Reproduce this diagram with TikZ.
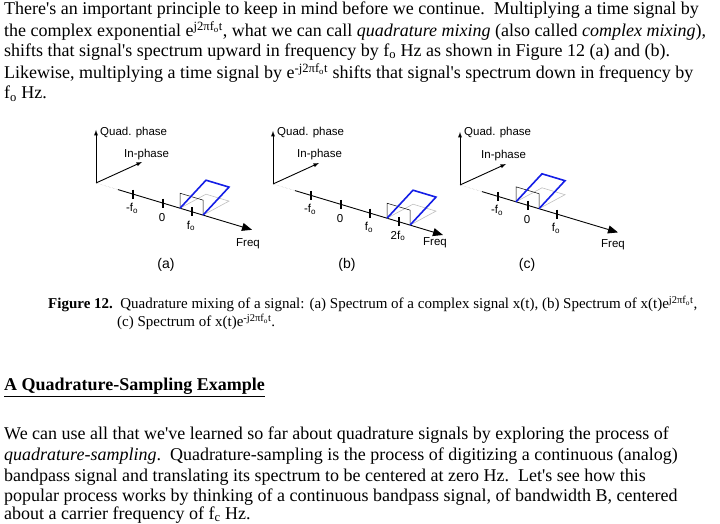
\documentclass[tikz,border=0pt]{standalone}
\usepackage{fontspec}
\setmainfont{Liberation Serif}
\setsansfont{Liberation Sans}
\usetikzlibrary{calc,arrows.meta}
\newcommand{\sps}[1]{\textsuperscript{#1}}
\newcommand{\sbs}[1]{\textsubscript{#1}}
\newcommand{\ap}{\textquotesingle}
\tikzset{
 body/.style={anchor=west,inner sep=0,font=\fontsize{18}{20}\selectfont},
 captxt/.style={anchor=west,inner sep=0,font=\fontsize{15}{17}\selectfont},
 lab/.style={inner sep=0,font=\sffamily\fontsize{11.5}{13}\selectfont},
 tk/.style={line width=1.6pt},
 ax/.style={line width=0.9pt},
 bl/.style={draw={rgb,255:red,20;green,30;blue,230},line width=1.6pt},
}
\newcommand{\spec}[5]{% #1 origin x, #2 origin y, #3 axis end dx, #4 center dx, #5 name
 \begin{scope}[shift={(#1,#2)}]
  \coordinate (#5o) at (0,0);
  \coordinate (#5d) at (22,6.6);
  \coordinate (#5e) at (#3,#3*0.3);
  \coordinate (#5q) at (0,-53);
  \coordinate (#5i) at (46,-21);
  \draw[ax,-latex] (#5o) -- (#5q);
  \draw[ax,-latex] (#5o) -- (#5i);
  \draw[gray!60,densely dotted] (#5o) -- (#5d);
  \draw[ax,-{Triangle[length=10pt,width=8pt]}] (#5d) -- (#5e);
  \coordinate (#5p) at ({#4-12},{(#4-12)*0.3});
  \coordinate (#5r) at ({#4+11},{(#4+11)*0.3});
  \draw[gray!50,line width=0.6pt] (#5p) -- ++(26,-14) -- ($(#5r)+(26,-14)$) -- (#5r);
  \draw[line width=0.5pt] (#5p) -- ++(0,-15) -- ($(#5r)+(0,-15)$) -- (#5r);
  \draw[bl] (#5p) -- ++(26,-28) -- ($(#5r)+(26,-28)$) -- (#5r);
 \end{scope}
}
\begin{document}
\begin{tikzpicture}[x=1pt,y=-1pt]
\useasboundingbox (0,0) rectangle (720,524);
\node[body] (l1) at (4,10) {There\ap s an important principle to keep in mind before we continue.\ \ Multiplying a time signal by};
\node[body] (l2) at (4,31) {the complex exponential e\sps{j2πf\sbs{o}t}, what we can call \textit{quadrature mixing} (also called \textit{complex mixing}),};
\node[body] (l3) at (4,52) {shifts that signal\ap s spectrum upward in frequency by f\sbs{o} Hz as shown in Figure 12 (a) and (b).};
\node[body] (l4) at (4,73) {Likewise, multiplying a time signal by e\sps{-j2πf\sbs{o}t} shifts that signal\ap s spectrum down in frequency by};
\node[body] (l5) at (4,94) {f\sbs{o} Hz.};

% (a)
\spec{96}{183}{156}{96}{a}
\node[lab,anchor=west] (aq) at (100,133) {Quad. phase};
\node[lab,anchor=west] (ai) at (124,155) {In-phase};
\foreach \d/\t [count=\k] in {37/-f\sbs{o},67/0,96/f\sbs{o}}{
 \draw[tk] (96+\d,183+\d*0.3-4.5) -- (96+\d,183+\d*0.3+4.5);
 \node[lab] (at\k) at (96+\d-1,183+\d*0.3+14) {\t};}
\node[lab] (af) at (248,244) {Freq};
\node[lab,font=\sffamily\fontsize{14}{16}\selectfont] (ac) at (166,265) {(a)};

% (b)
\spec{273}{184}{170}{126}{b}
\node[lab,anchor=west] (bq) at (277,133) {Quad. phase};
\node[lab,anchor=west] (bi) at (297,155) {In-phase};
\foreach \d/\t [count=\k] in {38/-f\sbs{o},68/0,97/f\sbs{o},126/2f\sbs{o}}{
 \draw[tk] (273+\d,184+\d*0.3-4.5) -- (273+\d,184+\d*0.3+4.5);
 \node[lab] (bt\k) at (273+\d-1,184+\d*0.3+14) {\t};}
\node[lab] (bf) at (435,243) {Freq};
\node[lab,font=\sffamily\fontsize{14}{16}\selectfont] (bc) at (347,265) {(b)};

% (c)
\spec{460}{185}{158}{68}{c}
\node[lab,anchor=west] (cq) at (464,133) {Quad. phase};
\node[lab,anchor=west] (ci) at (481,156) {In-phase};
\foreach \d/\t [count=\k] in {38/-f\sbs{o},68/0,97/f\sbs{o}}{
 \draw[tk] (460+\d,185+\d*0.3-4.5) -- (460+\d,185+\d*0.3+4.5);
 \node[lab] (ct\k) at (460+\d-1,185+\d*0.3+14) {\t};}
\node[lab] (cf) at (613,245) {Freq};
\node[lab,font=\sffamily\fontsize{14}{16}\selectfont] (cc) at (527,265) {(c)};

\node[captxt] (f1) at (48,304) {\textbf{Figure 12.}\ \ Quadrature mixing of a signal: (a) Spectrum of a complex signal x(t), (b) Spectrum of x(t)e\sps{j2πf\sbs{o}t},};
\node[captxt] (f2) at (117,322) {(c) Spectrum of x(t)e\sps{-j2πf\sbs{o}t}.};

\node[body] (h) at (4,386) {\textbf{A Quadrature-Sampling Example}};
\draw[line width=0.8pt] ($(h.south west)+(0,2)$) -- ($(h.south east)+(0,2)$);

\node[body] (p1) at (4,435) {We can use all that we\ap ve learned so far about quadrature signals by exploring the process of};
\node[body] (p2) at (4,456) {\textit{quadrature-sampling}.\ \ Quadrature-sampling is the process of digitizing a continuous (analog)};
\node[body] (p3) at (4,477) {bandpass signal and translating its spectrum to be centered at zero Hz.\ \ Let\ap s see how this};
\node[body] (p4) at (4,497) {popular process works by thinking of a continuous bandpass signal, of bandwidth B, centered};
\node[body] (p5) at (4,515) {about a carrier frequency of f\sbs{c} Hz.};
\end{tikzpicture}
\end{document}
